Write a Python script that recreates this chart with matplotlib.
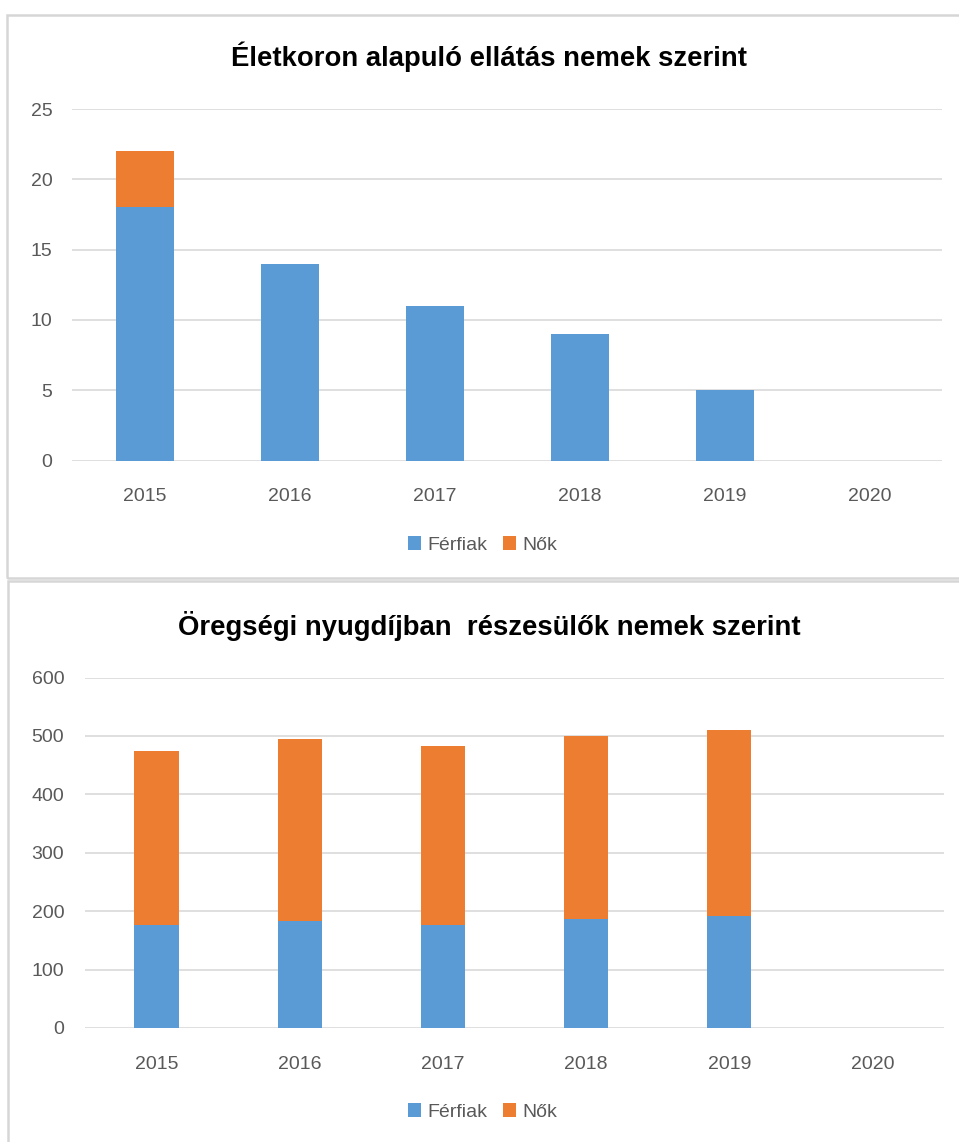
import numpy as np
import matplotlib.pyplot as plt
from matplotlib.patches import Rectangle

# adatok
years = ["2015", "2016", "2017", "2018", "2019", "2020"]
ferfiak_1 = [18, 14, 11, 9, 5, 0]
nok_1 = [4, 0, 0, 0, 0, 0]
ferfiak_2 = [176, 183, 176, 187, 191, 0]
nok_2 = [298, 311, 307, 313, 319, 0]

title_1 = "Életkoron alapuló ellátás nemek szerint"
title_2 = "Öregségi nyugdíjban  részesülők nemek szerint"

BLUE = "#5B9BD5"
ORANGE = "#ED7D31"
GRID = "#D9D9D9"
TXT = "#595959"

plt.rcParams['font.family'] = ['Liberation Sans', 'DejaVu Sans']

fig = plt.figure(figsize=(9.59, 11.42), dpi=100)
W, H = 959, 1142

# keretek
fig.patches.append(Rectangle((7/W, 1-578/H), 1.0, (578-15)/H, transform=fig.transFigure,
                             fill=False, edgecolor="#D6D6D6", lw=1.8))
fig.patches.append(Rectangle((8/W, -0.01), 1.0, (1142-581)/H + 0.01, transform=fig.transFigure,
                             fill=False, edgecolor="#D6D6D6", lw=1.8))

def draw(ax, men, women, ymax, step, width, title, ty, ly, ypad):
	x = np.arange(len(years))
	ax.bar(x, men, width, color=BLUE, label="Férfiak", zorder=3)
	ax.bar(x, women, width, bottom=men, color=ORANGE, label="Nők", zorder=3)
	ax.set_xlim(-0.5, len(years)-0.5)
	ax.set_ylim(0, ymax)
	ax.set_yticks(np.arange(0, ymax+1, step))
	ax.set_xticks(x)
	ax.set_xticklabels(years)
	ax.grid(axis='y', color=GRID, lw=1.2, zorder=0)
	for s in ax.spines.values():
		s.set_visible(False)
	ax.tick_params(axis='both', length=0, labelsize=14, labelcolor=TXT)
	ax.tick_params(axis='x', pad=20)
	ax.tick_params(axis='y', pad=ypad)
	fig.text(0.51, ty, title, ha='center', va='center', fontsize=19.8, fontweight='bold', color='black')
	ax.legend(loc='center', bbox_to_anchor=(0.503, ly), bbox_transform=fig.transFigure, ncol=2,
		frameon=False, fontsize=14, labelcolor=TXT, handlelength=0.7, handleheight=0.7,
		handletextpad=0.3, columnspacing=0.8)

ax1 = fig.add_axes([72/W, 1-460.5/H, (942-72)/W, 351.5/H])
draw(ax1, ferfiak_1, nok_1, 25, 5, 0.40, title_1, 1-57/H, 1-545/H, 14)

ax2 = fig.add_axes([85/W, 1-1028/H, (944-85)/W, 350.5/H])
draw(ax2, ferfiak_2, nok_2, 600, 100, 0.31, title_2, 1-626/H, 1-1112/H, 15)

plt.savefig("out.png", dpi=100)
